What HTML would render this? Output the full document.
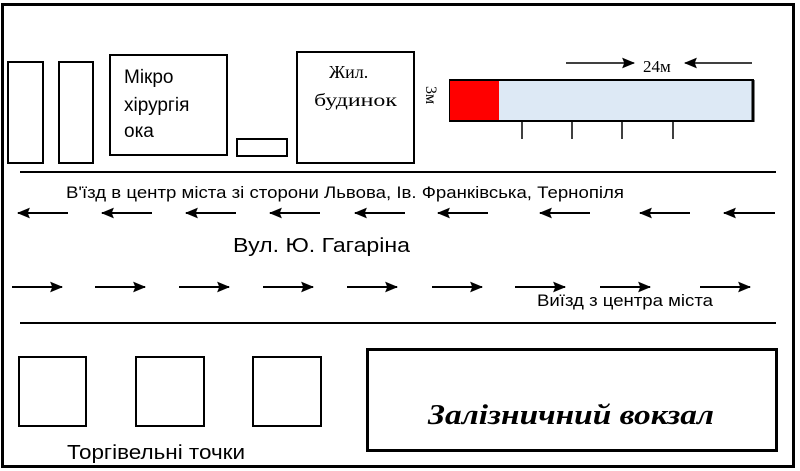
<!DOCTYPE html>
<html><head><meta charset="utf-8"><style>
html,body{margin:0;padding:0;background:#fff;width:800px;height:471px;overflow:hidden}
svg{display:block}
</style></head><body>
<svg width="800" height="471" viewBox="0 0 800 471" xmlns="http://www.w3.org/2000/svg">
<defs>
<marker id="ah" viewBox="0 0 12 10" refX="11" refY="5" markerWidth="13" markerHeight="11" markerUnits="userSpaceOnUse" orient="auto"><path d="M0,0 L12,5 L0,10 L2,5 Z" fill="#000"/></marker>
</defs>
<rect x="2.5" y="4.5" width="791" height="462" fill="#fff" stroke="#000" stroke-width="3"/>
<g fill="none" stroke="#000" stroke-width="2">
<rect x="8" y="62" width="35" height="101"/>
<rect x="59" y="62" width="34" height="101"/>
<rect x="110" y="55" width="117" height="100"/>
<rect x="237" y="139" width="50" height="17"/>
<rect x="297" y="52" width="117" height="111"/>
</g>
<g font-family="Liberation Sans, sans-serif" font-size="19" fill="#000">
<text x="124" y="83">Мікро</text>
<text x="124" y="111">хірургія</text>
<text x="124" y="137">ока</text>
</g>
<g font-family="Liberation Serif, serif" font-size="18" fill="#000">
<text x="329" y="78">Жил.</text>
<text x="314" y="106" textLength="83" lengthAdjust="spacingAndGlyphs">будинок</text>
<text transform="translate(426,86) rotate(90)" font-size="16">3м</text>
<text x="643" y="72" font-size="17">24м</text>
</g>
<rect x="450" y="80" width="303" height="41" fill="#dde9f5" stroke="#000" stroke-width="2"/>
<line x1="753" y1="80" x2="753" y2="122" stroke="#000" stroke-width="3"/>
<rect x="450" y="81" width="49" height="39" fill="#f00"/>
<g stroke="#000" stroke-width="1.5">
<line x1="522" y1="121" x2="522" y2="139"/><line x1="572" y1="121" x2="572" y2="139"/>
<line x1="622" y1="121" x2="622" y2="139"/><line x1="673" y1="121" x2="673" y2="139"/>
<line x1="566" y1="63" x2="634" y2="63" marker-end="url(#ah)"/>
<line x1="752" y1="63" x2="685" y2="63" marker-end="url(#ah)"/>
</g>
<g stroke="#000" stroke-width="2">
<line x1="20" y1="172" x2="776" y2="172"/>
<line x1="20" y1="323" x2="776" y2="323"/>
</g>
<g stroke="#000" stroke-width="2" marker-end="url(#ah)">
<line x1="68" y1="213" x2="18" y2="213"/><line x1="152" y1="213" x2="102" y2="213"/>
<line x1="236" y1="213" x2="186" y2="213"/><line x1="320" y1="213" x2="270" y2="213"/>
<line x1="405" y1="213" x2="355" y2="213"/><line x1="488" y1="213" x2="438" y2="213"/>
<line x1="590" y1="213" x2="540" y2="213"/><line x1="690" y1="213" x2="640" y2="213"/>
<line x1="775" y1="213" x2="724" y2="213"/>
<line x1="12" y1="287" x2="62" y2="287"/><line x1="95" y1="287" x2="145" y2="287"/>
<line x1="179" y1="287" x2="229" y2="287"/><line x1="263" y1="287" x2="313" y2="287"/>
<line x1="347" y1="287" x2="397" y2="287"/><line x1="432" y1="287" x2="482" y2="287"/>
<line x1="515" y1="287" x2="565" y2="287"/><line x1="600" y1="287" x2="650" y2="287"/>
<line x1="700" y1="287" x2="750" y2="287"/>
</g>
<g font-family="Liberation Sans, sans-serif" fill="#000">
<text x="66" y="198" font-size="17" textLength="558" lengthAdjust="spacingAndGlyphs">В'їзд в центр міста зі сторони Львова, Ів. Франківська, Тернопіля</text>
<text x="233" y="252" font-size="20" textLength="177" lengthAdjust="spacingAndGlyphs">Вул. Ю. Гагаріна</text>
<text x="537" y="306" font-size="17" textLength="176" lengthAdjust="spacingAndGlyphs">Виїзд з центра міста</text>
<text x="67" y="459" font-size="20" textLength="178" lengthAdjust="spacingAndGlyphs">Торгівельні точки</text>
</g>
<g fill="none" stroke="#000" stroke-width="2">
<rect x="19" y="357" width="67" height="69"/>
<rect x="136" y="357" width="68" height="69"/>
<rect x="253" y="357" width="68" height="69"/>
</g>
<rect x="367.5" y="349.5" width="409" height="101" fill="none" stroke="#000" stroke-width="3"/>
<text x="428" y="424" font-family="Liberation Serif, serif" font-style="italic" font-weight="bold" font-size="28" textLength="286" lengthAdjust="spacingAndGlyphs" fill="#000">Залізничний вокзал</text>
</svg>
</body></html>
